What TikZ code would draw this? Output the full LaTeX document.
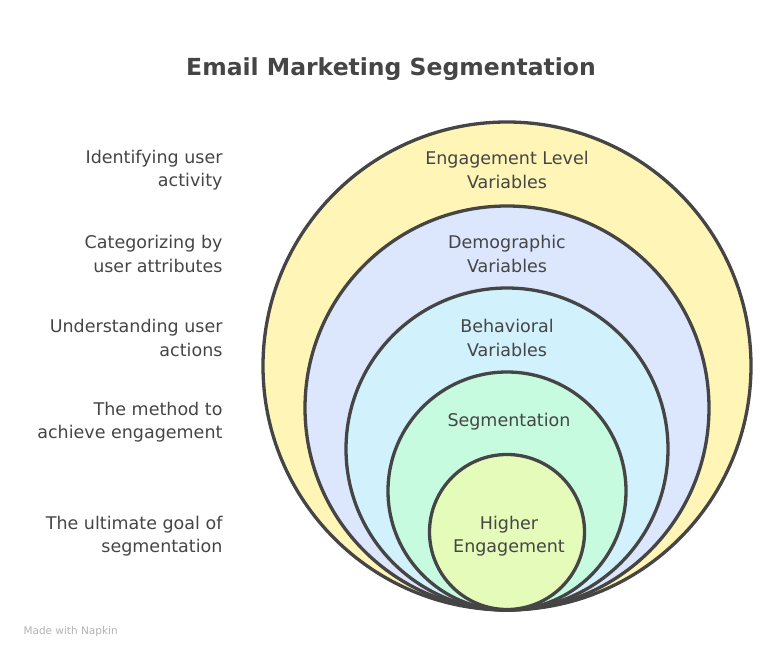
\documentclass[tikz,border=0pt]{standalone}
\usepackage{fontspec}
\setmainfont{DejaVu Sans}
\usepackage{tikz}

\definecolor{inkgray}{HTML}{454545}
\definecolor{ringyellow}{HTML}{FEF5B7}
\definecolor{ringblue}{HTML}{DCE6FC}
\definecolor{ringcyan}{HTML}{D1F1FC}
\definecolor{ringmint}{HTML}{C6FBE0}
\definecolor{ringlime}{HTML}{E5FBB9}

\begin{document}
\begin{tikzpicture}[x=1pt, y=-1pt,
    ring/.style={shape=circle, draw=inkgray, line width=3.3pt, inner sep=0pt},
    ringtext/.style={align=center, text=inkgray, font=\fontsize{17.5}{23.5}\selectfont},
    sidetext/.style={align=right, anchor=east, text=inkgray, font=\fontsize{17.5}{23.5}\selectfont}]
        \useasboundingbox (0, 0) rectangle (780, 661);

        % title
        \node[text=inkgray, font=\fontsize{23.5}{28}\selectfont\bfseries] (T) at (391, 69) {Email Marketing Segmentation};

        % nested circles, all touching at the bottom
        \node[ring, fill=ringyellow, minimum size=488pt] (C1) at (507, 366) {};
        \node[ring, fill=ringblue, minimum size=404pt] (C2) at (507, 408) {};
        \node[ring, fill=ringcyan, minimum size=322pt] (C3) at (507, 449) {};
        \node[ring, fill=ringmint, minimum size=238pt] (C4) at (507, 491) {};
        \node[ring, fill=ringlime, minimum size=155pt] (C5) at (507, 532) {};

        % circle labels
        \node[ringtext] (L1) at (507, 170) {Engagement Level\\Variables};
        \node[ringtext] (L2) at (507, 254) {Demographic\\Variables};
        \node[ringtext] (L3) at (507, 338) {Behavioral\\Variables};
        \node[ringtext] (L4) at (509, 422) {Segmentation};
        \node[ringtext] (L5) at (509, 536) {Higher\\Engagement};

        % descriptions on the left
        \node[sidetext] (D1) at (226, 170) {Identifying user\\activity};
        \node[sidetext] (D2) at (226, 254) {Categorizing by\\user attributes};
        \node[sidetext] (D3) at (226, 338) {Understanding user\\actions};
        \node[sidetext] (D4) at (226, 422) {The method to\\achieve engagement};
        \node[sidetext] (D5) at (226, 536) {The ultimate goal of\\segmentation};

        \node[anchor=west, text=black!30, font=\fontsize{10.5}{12}\selectfont] (M) at (20, 632) {Made with Napkin};
\end{tikzpicture}
\end{document}
